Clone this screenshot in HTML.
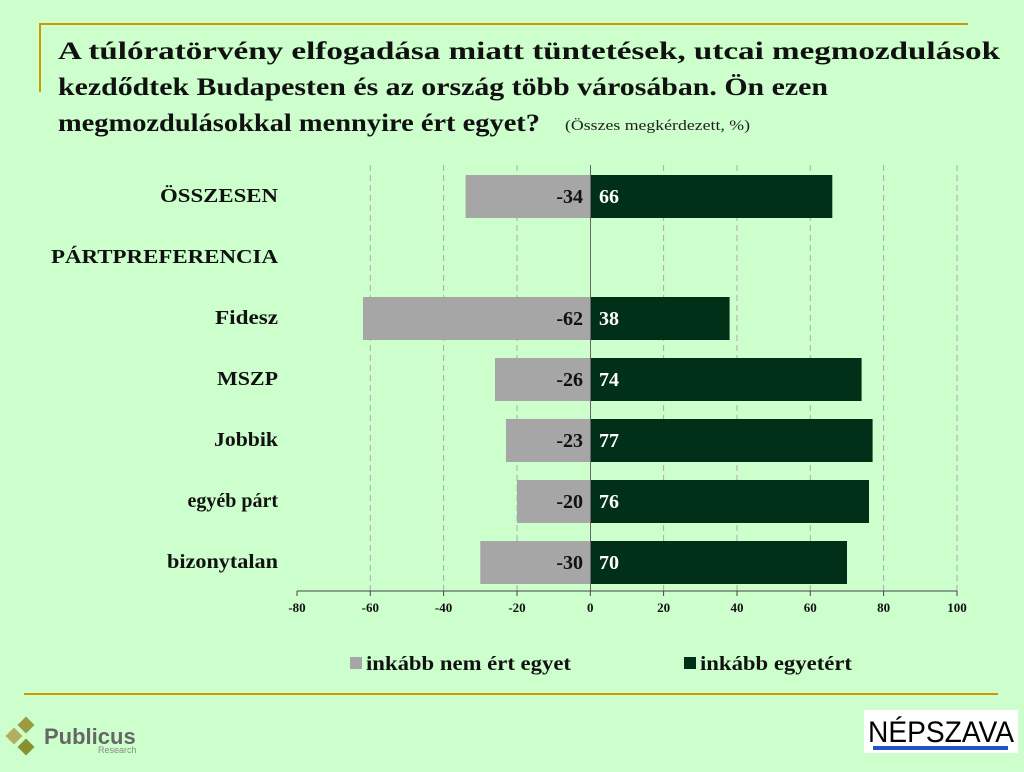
<!DOCTYPE html><html><head><meta charset="utf-8"><style>
body{margin:0;width:1024px;height:772px;background:#ccffcc;overflow:hidden;font-family:"Liberation Serif",serif}
</style></head><body>
<svg width="1024" height="772" style="position:absolute;left:0;top:0" font-family="Liberation Serif, serif">
<line x1="39" y1="24" x2="968" y2="24" stroke="#cc9900" stroke-width="2"/>
<line x1="40" y1="23" x2="40" y2="92" stroke="#cc9900" stroke-width="2"/>
<line x1="24" y1="694" x2="998" y2="694" stroke="#cc9900" stroke-width="2"/>
<g font-weight="bold" font-size="25" fill="#111">
<text x="58" y="59" textLength="942" lengthAdjust="spacingAndGlyphs">A túlóratörvény elfogadása miatt tüntetések, utcai megmozdulások</text>
<text x="58" y="95" textLength="770" lengthAdjust="spacingAndGlyphs">kezdődtek Budapesten és az ország több városában. Ön ezen</text>
<text x="58" y="131" textLength="482" lengthAdjust="spacingAndGlyphs">megmozdulásokkal mennyire ért egyet?</text>
</g>
<text x="565" y="130" font-size="15" fill="#222" textLength="185" lengthAdjust="spacingAndGlyphs">(Összes megkérdezett, %)</text>
<g stroke="#aaa" stroke-dasharray="6,4" stroke-width="1">
<line x1="370.3" y1="165" x2="370.3" y2="591"/><line x1="443.6" y1="165" x2="443.6" y2="591"/><line x1="517" y1="165" x2="517" y2="591"/>
<line x1="663.6" y1="165" x2="663.6" y2="591"/><line x1="737" y1="165" x2="737" y2="591"/><line x1="810.3" y1="165" x2="810.3" y2="591"/><line x1="883.6" y1="165" x2="883.6" y2="591"/><line x1="957" y1="165" x2="957" y2="591"/>
</g>
<g fill="#a6a6a6">
<rect x="465.6" y="175" width="124.7" height="43"/>
<rect x="363" y="297" width="227.3" height="43"/>
<rect x="495" y="358" width="95.3" height="43"/>
<rect x="506" y="419" width="84.3" height="43"/>
<rect x="517" y="480" width="73.3" height="43"/>
<rect x="480.3" y="541" width="110" height="43"/>
</g>
<g fill="#003018">
<rect x="590.3" y="175" width="242" height="43"/>
<rect x="590.3" y="297" width="139.3" height="43"/>
<rect x="590.3" y="358" width="271.3" height="43"/>
<rect x="590.3" y="419" width="282.3" height="43"/>
<rect x="590.3" y="480" width="278.7" height="43"/>
<rect x="590.3" y="541" width="256.7" height="43"/>
</g>
<line x1="590.5" y1="165" x2="590.5" y2="591" stroke="#666" stroke-width="1"/>
<line x1="297" y1="591" x2="957" y2="591" stroke="#444" stroke-width="1"/>
<g stroke="#444"><line x1="297" y1="591" x2="297" y2="596"/><line x1="370.3" y1="591" x2="370.3" y2="596"/><line x1="443.6" y1="591" x2="443.6" y2="596"/><line x1="517" y1="591" x2="517" y2="596"/><line x1="590.3" y1="591" x2="590.3" y2="596"/><line x1="663.6" y1="591" x2="663.6" y2="596"/><line x1="737" y1="591" x2="737" y2="596"/><line x1="810.3" y1="591" x2="810.3" y2="596"/><line x1="883.6" y1="591" x2="883.6" y2="596"/><line x1="957" y1="591" x2="957" y2="596"/></g>
<g font-size="13" font-weight="bold" text-anchor="middle" fill="#111">
<text x="297" y="612">-80</text><text x="370.3" y="612">-60</text><text x="443.6" y="612">-40</text><text x="517" y="612">-20</text><text x="590.3" y="612">0</text><text x="663.6" y="612">20</text><text x="737" y="612">40</text><text x="810.3" y="612">60</text><text x="883.6" y="612">80</text><text x="957" y="612">100</text>
</g>
<g font-size="20" font-weight="bold" fill="#111">
<text x="160" y="202" textLength="118" lengthAdjust="spacingAndGlyphs">ÖSSZESEN</text>
<text x="51" y="263" textLength="227" lengthAdjust="spacingAndGlyphs">PÁRTPREFERENCIA</text>
<text x="215" y="324" textLength="63" lengthAdjust="spacingAndGlyphs">Fidesz</text>
<text x="217" y="385" textLength="61" lengthAdjust="spacingAndGlyphs">MSZP</text>
<text x="214" y="446" textLength="64" lengthAdjust="spacingAndGlyphs">Jobbik</text>
<text x="278" y="507" text-anchor="end">egyéb párt</text>
<text x="167" y="568" textLength="111" lengthAdjust="spacingAndGlyphs">bizonytalan</text>
</g>
<g font-size="20" font-weight="bold" text-anchor="end" fill="#111">
<text x="583" y="203">-34</text><text x="583" y="325">-62</text><text x="583" y="386">-26</text><text x="583" y="447">-23</text><text x="583" y="508">-20</text><text x="583" y="569">-30</text>
</g>
<g font-size="20" font-weight="bold" fill="#fff">
<text x="599" y="203">66</text><text x="599" y="325">38</text><text x="599" y="386">74</text><text x="599" y="447">77</text><text x="599" y="508">76</text><text x="599" y="569">70</text>
</g>
<rect x="350" y="657" width="12" height="12" fill="#a6a6a6"/>
<text x="366" y="670" font-size="20" font-weight="bold" fill="#111" textLength="205" lengthAdjust="spacingAndGlyphs">inkább nem ért egyet</text>
<rect x="684" y="657" width="12" height="12" fill="#003018"/>
<text x="700" y="670" font-size="20" font-weight="bold" fill="#111" textLength="152" lengthAdjust="spacingAndGlyphs">inkább egyetért</text>
<g fill="#9a9a40"><rect x="20" y="719" width="12" height="12" transform="rotate(45 26 725)"/><rect x="8" y="730" width="12" height="12" transform="rotate(45 14 736)" fill="#b0b060"/><rect x="20" y="741" width="12" height="12" transform="rotate(45 26 747)" fill="#8a9030"/></g>
<text x="44" y="744" font-family="Liberation Sans, sans-serif" font-weight="bold" font-size="22" fill="#666">Publicus</text>
<text x="98" y="753" font-family="Liberation Sans, sans-serif" font-size="9" fill="#888">Research</text>
<rect x="864" y="710" width="154" height="43" fill="#fff"/>
<text x="941" y="742" text-anchor="middle" font-family="Liberation Sans, sans-serif" font-size="30" fill="#000" textLength="146" lengthAdjust="spacingAndGlyphs">NÉPSZAVA</text>
<rect x="873" y="746" width="135" height="4" fill="#2255cc"/>
</svg>
</body></html>
